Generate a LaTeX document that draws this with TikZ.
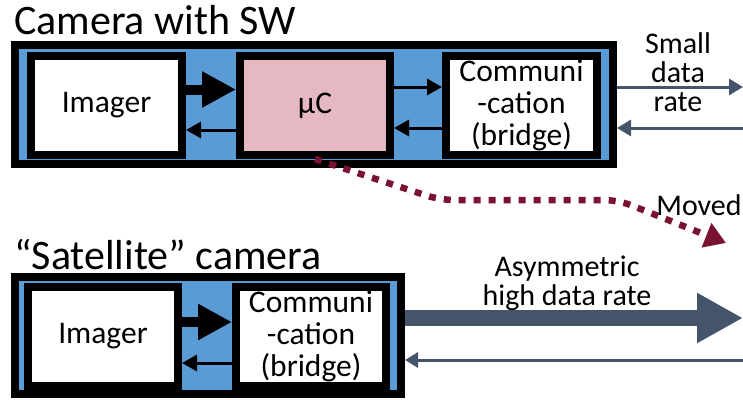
\documentclass[tikz,border=0pt]{standalone}
\usepackage{fontspec}
\setmainfont{Carlito}
\usetikzlibrary{arrows.meta}
\definecolor{panelblue}{HTML}{5B9BD5}
\definecolor{mcupink}{HTML}{E6B8C2}
\definecolor{linkslate}{HTML}{44546A}
\definecolor{movemaroon}{HTML}{7A1232}
\begin{document}
\begin{tikzpicture}[x=1pt,y=-1pt,
  panel/.style={draw=black, line width=8pt, fill=panelblue, inner sep=0pt},
  block/.style={draw=black, line width=8pt, fill=white, inner sep=0pt,
    font=\fontsize{31.5}{32}\selectfont, align=center},
  heading/.style={anchor=base west, inner sep=0pt, font=\fontsize{42}{42}\selectfont},
  note/.style={inner sep=0pt, align=center, font=\fontsize{30}{29}\selectfont},
  bigflow/.style={line width=10pt, -{Triangle[length=34pt,width=34pt]}},
  backflow/.style={line width=3pt, -{Triangle[length=15pt,width=16pt]}},
  linkflow/.style={linkslate, line width=3pt, -{Triangle[length=14pt,width=16pt]}},
]
\useasboundingbox (0,0) rectangle (743,399);

% titles
\node[heading] (t1) at (14,34) {Camera with SW};
\node[heading] (t2) at (14,269) {“Satellite” camera};

% camera with software on board
\node[panel, minimum width=598pt, minimum height=119pt] (boxA) at (314,104.5) {};
\node[block, minimum width=151pt, minimum height=99pt] (imA) at (106.5,105.5) {Imager};
\node[block, fill=mcupink, minimum width=150pt, minimum height=99pt] (ucA) at (315,105.5) {μC};
\node[block, minimum width=151pt, minimum height=99pt] (comA) at (521.5,105.5) {Communi\\-cation\\(bridge)};

\draw[bigflow] ([yshift=16pt]imA.east) -- ([yshift=16pt]ucA.west);
\draw[backflow] ([yshift=-24.5pt]ucA.west) -- ([yshift=-24.5pt]imA.east);
\draw[backflow] ([yshift=18.5pt]ucA.east) -- ([yshift=18.5pt]comA.west);
\draw[backflow] ([yshift=-22.5pt]comA.west) -- ([yshift=-22.5pt]ucA.east);

\coordinate (outA) at (743,87);
\coordinate (inA) at (743,128);
\draw[linkflow] ([yshift=17.5pt]boxA.east) -- (outA);
\draw[linkflow] (inA) -- ([yshift=-23.5pt]boxA.east);
\node[note] (small) at (678,72) {Small\\data\\rate};

% satellite camera
\node[panel, minimum width=386pt, minimum height=117pt] (boxB) at (208,335.5) {};
\node[block, minimum width=150pt, minimum height=99pt] (imB) at (103,336.5) {Imager};
\node[block, minimum width=150pt, minimum height=99pt] (comB) at (311,336.5) {Communi\\-cation\\(bridge)};

\draw[bigflow] ([yshift=14.5pt]imB.east) -- ([yshift=14.5pt]comB.west);
\draw[backflow] ([yshift=-26.5pt]comB.west) -- ([yshift=-26.5pt]imB.east);

\coordinate (outB) at (743,318);
\coordinate (inB) at (743,360);
\draw[linkslate, line width=16pt, -{Triangle[length=46pt,width=47pt]}] ([yshift=17.5pt]boxB.east) -- (outB);
\draw[linkslate, line width=3pt, -{Triangle[length=13pt,width=15pt]}] (inB) -- ([yshift=-24.5pt]boxB.east);
\node[note] (asym) at (567,283) {Asymmetric\\high data rate};

% the microcontroller moves out of the camera
\coordinate (bend1) at (440,200);
\coordinate (bend2) at (618,200);
\coordinate (moveEnd) at (726,243);
\draw[movemaroon, line width=6.5pt, dash pattern=on 7pt off 8pt, rounded corners=14pt,
  -{Triangle[length=21pt,width=25pt]}]
  (ucA.south) -- (bend1) -- (bend2) -- (moveEnd);
\node[note] (moved) at (699,205) {Moved};
\end{tikzpicture}
\end{document}
